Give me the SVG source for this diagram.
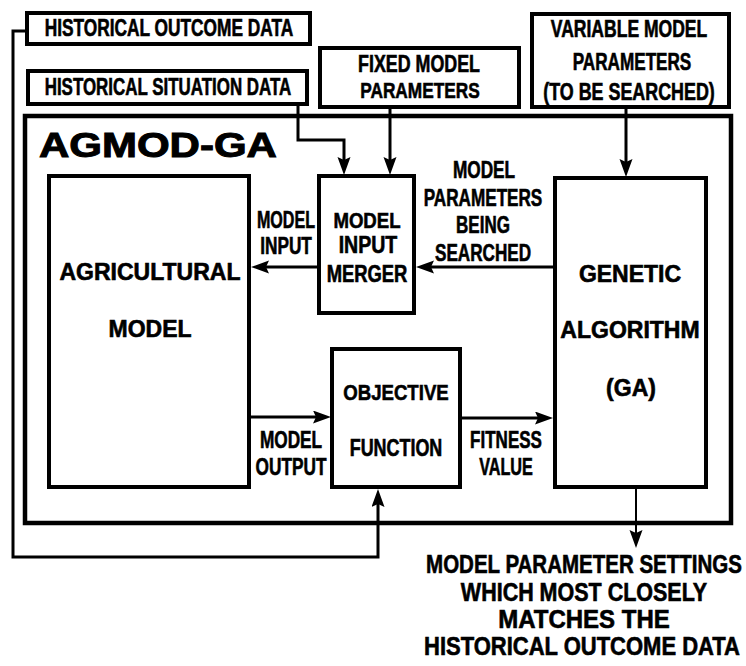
<svg xmlns="http://www.w3.org/2000/svg" width="746" height="666" viewBox="0 0 746 666">
  <style>
    .box { fill: none; stroke: #000; stroke-width: 4; }
    .frame { fill: none; stroke: #000; stroke-width: 4.5; }
    .wire { fill: none; stroke: #000; stroke-width: 3; }
    .thin { fill: none; stroke: #000; stroke-width: 2; }
    text { font-family: "Liberation Sans", Arial, sans-serif; font-weight: bold; fill: #000; text-anchor: middle; stroke: #000; stroke-width: 0.6; }
    .lbl { font-size: 23px; }
    .big { font-size: 25px; }
    .title { font-size: 35px; text-anchor: start; stroke-width: 1; }
  </style>
  <defs>
    <marker id="arrow" markerUnits="userSpaceOnUse" markerWidth="20" markerHeight="14" refX="12" refY="6.5" orient="auto">
      <path d="M0,0 L18,6.5 L0,13 L3,6.5 Z" fill="#000"/>
    </marker>
  </defs>

  <rect width="746" height="666" fill="#fff"/>

  <!-- outer AGMOD-GA frame -->
  <g id="agmod-ga">
    <rect class="frame" x="25" y="116" width="706" height="407"/>
    <text class="title" transform="translate(39,157) scale(1.2,1)">AGMOD-GA</text>
  </g>

  <!-- input boxes above the frame -->
  <g id="historical-outcome-data">
    <rect class="box" x="27" y="13" width="283" height="31"/>
    <text class="lbl" transform="translate(169,36) scale(0.753,1)">HISTORICAL OUTCOME DATA</text>
  </g>

  <g id="historical-situation-data">
    <rect class="box" x="28" y="71" width="279" height="33"/>
    <text class="lbl" transform="translate(168,95) scale(0.736,1)">HISTORICAL SITUATION DATA</text>
  </g>

  <g id="fixed-model-parameters">
    <rect class="box" x="320" y="48" width="199" height="59"/>
    <text class="lbl" transform="translate(419,72) scale(0.776,1)">FIXED MODEL</text>
    <text class="lbl" transform="translate(420,98) scale(0.752,1)">PARAMETERS</text>
  </g>

  <g id="variable-model-parameters">
    <rect class="box" x="532" y="14" width="197" height="93"/>
    <text class="lbl" transform="translate(629,37) scale(0.763,1)">VARIABLE MODEL</text>
    <text class="lbl" transform="translate(632,70) scale(0.745,1)">PARAMETERS</text>
    <text class="lbl" transform="translate(629,100) scale(0.778,1)">(TO BE SEARCHED)</text>
  </g>

  <!-- blocks inside the frame -->
  <g id="agricultural-model">
    <rect class="box" x="49" y="176" width="200" height="311"/>
    <text class="lbl" x="150" y="280">AGRICULTURAL</text>
    <text class="lbl" x="150" y="337">MODEL</text>
  </g>

  <g id="model-input-merger">
    <rect class="box" x="319" y="176" width="95" height="137"/>
    <text class="lbl" transform="translate(367,228) scale(0.81,1)">MODEL</text>
    <text class="lbl" transform="translate(368,253) scale(0.85,1)">INPUT</text>
    <text class="lbl" transform="translate(367,282) scale(0.8,1)">MERGER</text>
  </g>

  <g id="objective-function">
    <rect class="box" x="332" y="349" width="128" height="138"/>
    <text class="lbl" transform="translate(396,400) scale(0.81,1)">OBJECTIVE</text>
    <text class="lbl" transform="translate(396,456) scale(0.78,1)">FUNCTION</text>
  </g>

  <g id="genetic-algorithm">
    <rect class="box" x="555" y="178" width="151" height="309"/>
    <text class="lbl" x="630" y="282">GENETIC</text>
    <text class="lbl" x="630" y="338">ALGORITHM</text>
    <text class="lbl" x="631" y="396">(GA)</text>
  </g>

  <!-- connectors and their labels -->
  <g id="connectors">
    <polyline class="wire" points="27,31 13,31 13,557 378,557 378,495" marker-end="url(#arrow)"/>
    <polyline class="wire" points="298,105 298,140 344,140 344,169" marker-end="url(#arrow)"/>
    <line class="wire" x1="390" y1="108" x2="390" y2="169" marker-end="url(#arrow)"/>
    <line class="wire" x1="626" y1="108" x2="626" y2="171" marker-end="url(#arrow)"/>
    <line class="wire" x1="555" y1="267" x2="422" y2="267" marker-end="url(#arrow)"/>
    <line class="wire" x1="319" y1="267" x2="257" y2="267" marker-end="url(#arrow)"/>
    <line class="wire" x1="250" y1="417" x2="325" y2="417" marker-end="url(#arrow)"/>
    <line class="wire" x1="461" y1="418" x2="547" y2="418" marker-end="url(#arrow)"/>
    <line class="thin" x1="636" y1="489" x2="636" y2="542" marker-end="url(#arrow)"/>

    <text class="lbl" transform="translate(286,228) scale(0.7,1)">MODEL</text>
    <text class="lbl" transform="translate(286,254) scale(0.75,1)">INPUT</text>

    <text class="lbl" transform="translate(484,178) scale(0.75,1)">MODEL</text>
    <text class="lbl" transform="translate(483,206) scale(0.745,1)">PARAMETERS</text>
    <text class="lbl" transform="translate(483,233) scale(0.74,1)">BEING</text>
    <text class="lbl" transform="translate(483,261) scale(0.744,1)">SEARCHED</text>

    <text class="lbl" transform="translate(291,448) scale(0.75,1)">MODEL</text>
    <text class="lbl" transform="translate(291,475) scale(0.75,1)">OUTPUT</text>

    <text class="lbl" transform="translate(506,448) scale(0.74,1)">FITNESS</text>
    <text class="lbl" transform="translate(506,475) scale(0.705,1)">VALUE</text>
  </g>

  <g id="result">
    <text class="big" transform="translate(584,573) scale(0.82,1)">MODEL PARAMETER SETTINGS</text>
    <text class="big" transform="translate(584,601) scale(0.86,1)">WHICH MOST CLOSELY</text>
    <text class="big" transform="translate(584,628) scale(0.96,1)">MATCHES THE</text>
    <text class="big" transform="translate(582,655) scale(0.88,1)">HISTORICAL OUTCOME DATA</text>
  </g>
</svg>
